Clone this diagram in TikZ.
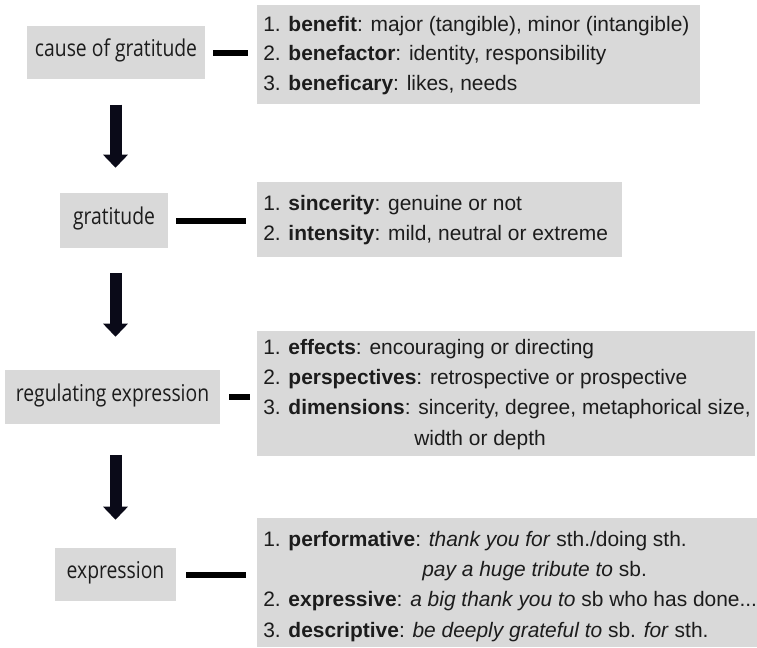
\documentclass[tikz,border=0pt]{standalone}
\usepackage{fontspec}
\setmainfont{Liberation Sans}
\newfontfamily\labelfont{Open Sans}
\usetikzlibrary{arrows.meta}
\definecolor{boxgray}{HTML}{D9D9D9}
\definecolor{ink}{HTML}{1C1C1C}
\definecolor{arrowink}{HTML}{0A0A18}
\newcommand{\lbl}[1]{\scalebox{1}[1.2]{#1}}
\begin{document}
\begin{tikzpicture}[x=0.75pt,y=-0.75pt,
  every node/.style={inner sep=0pt, text=ink},
  leftbox/.style={fill=boxgray, font=\labelfont\fontsize{14.5}{18}\selectfont, text height=0.64em, text depth=0pt},
  listbox/.style={fill=boxgray, anchor=north west},
  item/.style={anchor=base west, font=\fontsize{15.7}{18}\selectfont},
  dashline/.style={draw=black, line width=4.5pt, line cap=butt},
  bigarrow/.style={draw=arrowink, line width=9pt, -{Triangle[width=18pt,length=9.75pt]}, arrowink}
]
\useasboundingbox (0,0) rectangle (757,647);

% left boxes
\node[leftbox, minimum width=133.5pt, minimum height=39.75pt] (cause) at (116,52.5) {\lbl{cause of gratitude}};
\node[leftbox, minimum width=81pt, minimum height=41.25pt] (grat) at (114,220.5) {\lbl{gratitude}};
\node[leftbox, minimum width=161.25pt, minimum height=40.5pt] (reg) at (112.5,397) {\lbl{regulating expression}};
\node[leftbox, minimum width=90.75pt, minimum height=39.75pt] (expr) at (115.5,574.5) {\lbl{expression}};

% right boxes
\node[listbox, minimum width=332.25pt, minimum height=74.25pt] (b1) at (257,5) {};
\node[listbox, minimum width=273.75pt, minimum height=56.25pt] (b2) at (257,182) {};
\node[listbox, minimum width=373.5pt, minimum height=93.75pt] (b3) at (257,331) {};
\node[listbox, minimum width=375pt, minimum height=96.75pt] (b4) at (257,518) {};

% box 1 items
\node[item] (b1a) at (263,31) {1. \textbf{benefit}: major (tangible), minor (intangible)};
\node[item] (b1b) at (263,60) {2. \textbf{benefactor}: identity, responsibility};
\node[item] (b1c) at (263,90) {3. \textbf{beneficary}: likes, needs};
% box 2 items
\node[item] (b2a) at (263,210) {1. \textbf{sincerity}: genuine or not};
\node[item] (b2b) at (263,240) {2. \textbf{intensity}: mild, neutral or extreme};
% box 3 items
\node[item] (b3a) at (263,354) {1. \textbf{effects}: encouraging or directing};
\node[item] (b3b) at (263,384) {2. \textbf{perspectives}: retrospective or prospective};
\node[item] (b3c) at (263,414) {3. \textbf{dimensions}: sincerity, degree, metaphorical size,};
\node[item] (b3d) at (414,445) {width or depth};
% box 4 items
\node[item] (b4a) at (263,546) {1. \textbf{performative}: \textit{thank you for} sth./doing sth.};
\node[item] (b4b) at (422,576) {\textit{pay a huge tribute to} sb.};
\node[item] (b4c) at (263,606) {2. \textbf{expressive}: \textit{a big thank you to} sb who has done...};
\node[item] (b4d) at (263,637) {3. \textbf{descriptive}: \textit{be deeply grateful to} sb. \textit{for} sth.};

% connectors left -> right
\draw[dashline, shorten <=6pt, shorten >=6.75pt] (cause.east) -- (b1.west |- cause.east);
\draw[dashline, shorten <=6pt, shorten >=8.25pt] (grat.east) -- (b2.west |- grat.east);
\draw[dashline, shorten <=6.75pt, shorten >=5.25pt] (reg.east) -- (b3.west |- reg.east);
\draw[dashline, shorten <=7.5pt, shorten >=8.25pt] (expr.east) -- (b4.west |- expr.east);

% vertical arrows
\coordinate (ax) at (115.5,0);
\draw[bigarrow, shorten <=19pt, shorten >=18.75pt] (cause.south -| ax) -- (grat.north -| ax);
\draw[bigarrow, shorten <=18.75pt, shorten >=24.75pt] (grat.south -| ax) -- (reg.north -| ax);
\draw[bigarrow, shorten <=23pt, shorten >=21pt] (reg.south -| ax) -- (expr.north -| ax);
\end{tikzpicture}
\end{document}
